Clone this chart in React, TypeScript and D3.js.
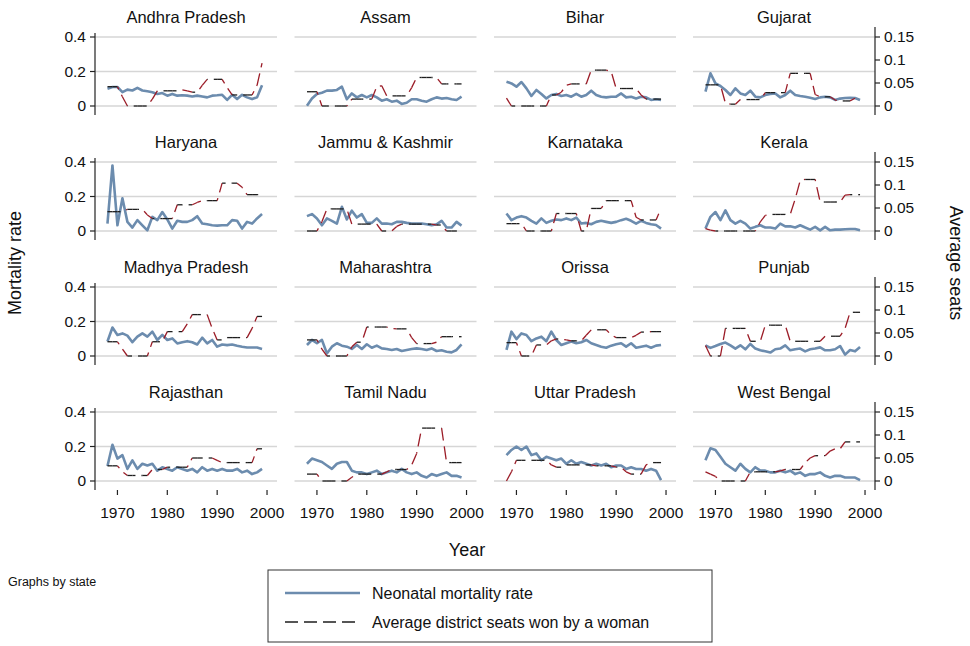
import * as d3 from "d3";

// years covered by both series
const years = [1968, 1969, 1970, 1971, 1972, 1973, 1974, 1975, 1976, 1977, 1978, 1979, 1980, 1981, 1982, 1983,
  1984, 1985, 1986, 1987, 1988, 1989, 1990, 1991, 1992, 1993, 1994, 1995, 1996, 1997, 1998, 1999];

const states = ["Andhra Pradesh", "Assam", "Bihar", "Gujarat", "Haryana", "Jammu & Kashmir", "Karnataka", "Kerala",
  "Madhya Pradesh", "Maharashtra", "Orissa", "Punjab", "Rajasthan", "Tamil Nadu", "Uttar Pradesh", "West Bengal"];

// neonatal mortality rate (left axis)
const nmrAndhra = [.10, .11, .11, .08, .095, .09, .105, .09, .085, .08, .07, .075, .06, .07, .06, .062, .06, .055, .06, .055, .05, .06, .062, .065, .035, .065, .04, .065, .05, .04, .05, .12];
const nmrAssam = [.002, .044, .07, .077, .089, .089, .093, .112, .039, .073, .05, .064, .05, .064, .05, .031, .039, .025, .031, .012, .019, .039, .039, .031, .025, .039, .05, .043, .046, .039, .035, .054];
const nmrBihar = [.141, .131, .112, .139, .102, .058, .093, .07, .044, .064, .07, .058, .064, .054, .07, .054, .064, .089, .064, .054, .05, .054, .054, .073, .05, .054, .044, .054, .05, .035, .039, .035];
const nmrGujarat = [.083, .19, .131, .116, .093, .064, .102, .073, .064, .089, .054, .05, .064, .07, .073, .05, .064, .089, .064, .058, .054, .048, .041, .05, .054, .05, .035, .043, .046, .048, .046, .035];
const nmrHaryana = [.043, .38, .033, .19, .053, .02, .063, .033, .004, .082, .063, .11, .067, .014, .059, .053, .053, .063, .086, .043, .039, .033, .031, .033, .033, .063, .059, .014, .053, .043, .073, .098];
const nmrJammu = [.086, .098, .073, .033, .073, .059, .043, .14, .067, .118, .078, .098, .047, .047, .073, .043, .043, .039, .053, .053, .047, .043, .043, .043, .039, .033, .039, .059, .02, .02, .053, .031];
const nmrKarnataka = [.102, .063, .078, .086, .078, .059, .043, .073, .047, .059, .067, .063, .073, .063, .078, .043, .047, .039, .053, .059, .053, .047, .053, .063, .071, .059, .043, .059, .047, .039, .035, .014];
const nmrKerala = [.014, .082, .11, .063, .12, .063, .043, .059, .043, .014, .024, .033, .02, .02, .014, .043, .027, .027, .02, .033, .02, .008, .024, .004, .024, .004, .008, .008, .01, .012, .012, .004];
const nmrMadhya = [.084, .165, .122, .131, .118, .08, .112, .131, .112, .141, .093, .122, .093, .102, .073, .08, .086, .08, .067, .106, .073, .093, .054, .067, .063, .067, .06, .054, .049, .049, .049, .041];
const nmrMaharashtra = [.064, .093, .074, .093, .015, .054, .074, .06, .054, .041, .064, .041, .068, .048, .06, .044, .041, .035, .041, .029, .035, .041, .044, .041, .035, .044, .029, .033, .025, .021, .035, .068];
const nmrOrissa = [.035, .141, .098, .131, .122, .086, .102, .112, .086, .141, .093, .064, .074, .084, .074, .08, .093, .074, .064, .054, .048, .06, .068, .074, .054, .074, .048, .054, .06, .048, .06, .064];
const nmrPunjab = [.062, .047, .058, .07, .078, .062, .043, .062, .039, .07, .043, .033, .027, .02, .039, .043, .062, .033, .039, .043, .027, .039, .043, .05, .033, .033, .039, .058, .008, .035, .027, .052];
const nmrRajasthan = [.087, .21, .13, .15, .07, .12, .07, .10, .09, .10, .06, .08, .07, .06, .08, .07, .06, .07, .05, .08, .06, .07, .06, .07, .06, .06, .07, .05, .06, .04, .05, .07];
const nmrTamil = [.10, .13, .12, .11, .09, .07, .10, .11, .11, .06, .05, .05, .04, .05, .06, .04, .05, .06, .05, .07, .05, .04, .05, .03, .02, .04, .03, .04, .05, .03, .03, .02];
const nmrUttar = [.15, .18, .20, .18, .20, .15, .16, .12, .14, .13, .12, .13, .10, .12, .10, .11, .10, .09, .10, .09, .10, .08, .09, .09, .07, .08, .07, .07, .06, .07, .06, .005];
const nmrBengal = [.12, .19, .18, .14, .10, .08, .06, .10, .07, .05, .08, .06, .06, .05, .05, .06, .05, .06, .04, .05, .03, .04, .04, .05, .03, .02, .03, .03, .02, .02, .02, .005];

// average district seats won by a woman (right axis)
const seatsAndhra = [.042, .042, .042, .02, 0, 0, 0, 0, 0, .015, .033, .033, .033, .033, .033, .035, .033, .03, .03, .045, .058, .058, .058, .058, .04, .024, .024, .024, .024, .024, .045, .093];
const seatsAssam = [.031, .031, .031, 0, 0, 0, 0, 0, 0, .015, .015, .015, .015, .015, .042, .044, .022, .022, .022, .022, .022, .04, .062, .062, .062, .062, .062, .048, .048, .048, .048, .048];
const seatsBihar = [.017, 0, 0, 0, 0, 0, 0, 0, 0, .024, .024, .03, .045, .048, .048, .048, .048, .078, .078, .078, .078, .075, .038, .038, .038, .038, .038, .024, .015, .015, .015, .015];
const seatsGujarat = [.046, .046, .046, .046, .006, .004, .004, .014, .014, .014, .014, .014, .029, .029, .029, .029, .029, .071, .071, .071, .071, .071, .025, .02, .02, .02, .013, .011, .011, .011, .017, .017];
const seatsHaryana = [.042, .042, .042, .042, .047, .047, .047, .047, .035, .027, .027, .027, .027, .027, .057, .057, .057, .057, .062, .066, .066, .066, .066, .104, .104, .104, .104, .095, .079, .079, .079, .079];
const seatsJammu = [0, 0, 0, .02, .048, .048, .048, .048, .048, .015, .015, .015, .015, .015, .015, 0, 0, 0, .01, .015, .015, .015, .015, .015, .015, .015, .013, .013, 0, 0, 0, 0];
const seatsKarnataka = [.016, .016, .016, .016, 0, 0, 0, 0, 0, 0, .038, .038, .038, .038, .038, 0, 0, .049, .049, .049, .066, .066, .066, .066, .066, .066, .03, .024, .024, .024, .024, .049];
const seatsKerala = [.005, .002, 0, 0, 0, 0, 0, 0, 0, 0, 0, .02, .034, .036, .036, .036, .036, .036, .07, .11, .112, .112, .112, .063, .063, .063, .063, .063, .078, .079, .079, .079];
const seatsMadhya = [.031, .031, .031, .015, 0, 0, 0, 0, 0, .031, .031, .031, .053, .053, .053, .053, .07, .09, .09, .09, .09, .06, .035, .035, .04, .04, .04, .04, .04, .06, .086, .086];
const seatsMaharashtra = [.035, .035, .035, .015, 0, 0, 0, 0, 0, .02, .03, .03, .063, .063, .063, .063, .063, .06, .059, .059, .059, .04, .027, .027, .027, .027, .03, .042, .042, .042, .042, .042];
const seatsOrissa = [.029, .029, .029, 0, 0, 0, .024, .024, .024, .033, .037, .037, .035, .033, .033, .033, .045, .057, .057, .057, .057, .046, .04, .04, .04, .04, .045, .052, .052, .053, .053, .053];
const seatsPunjab = [.023, 0, 0, 0, .06, .06, .06, .06, .06, .032, .032, .032, .067, .067, .067, .067, .067, .032, .032, .032, .032, .032, .032, .032, .043, .043, .043, .043, .06, .095, .095, .095];
const seatsRajasthan = [.033, .033, .033, .02, .012, .012, .012, .012, .012, .025, .025, .025, .03, .03, .03, .03, .03, .05, .05, .05, .05, .05, .045, .04, .04, .04, .04, .04, .04, .04, .07, .07];
const seatsTamil = [.015, .015, .015, 0, 0, 0, 0, 0, 0, .008, .015, .015, .015, .015, .015, .015, .02, .025, .025, .025, .025, .035, .06, .115, .115, .115, .115, .115, .04, .04, .04, .04];
const seatsUttar = [0, .02, .045, .045, .045, .045, .045, .045, .045, .035, .03, .03, .035, .035, .035, .035, .035, .035, .033, .033, .033, .033, .03, .03, .02, .015, .015, .015, .035, .04, .04, .04];
const seatsBengal = [.02, .015, .01, 0, 0, 0, 0, 0, 0, .02, .02, .02, .02, .02, .02, .022, .025, .025, .025, .025, .04, .05, .055, .055, .055, .065, .07, .07, .085, .085, .085, .085];

const nmrByState = [nmrAndhra, nmrAssam, nmrBihar, nmrGujarat, nmrHaryana, nmrJammu, nmrKarnataka, nmrKerala,
  nmrMadhya, nmrMaharashtra, nmrOrissa, nmrPunjab, nmrRajasthan, nmrTamil, nmrUttar, nmrBengal];
const seatsByState = [seatsAndhra, seatsAssam, seatsBihar, seatsGujarat, seatsHaryana, seatsJammu, seatsKarnataka, seatsKerala,
  seatsMadhya, seatsMaharashtra, seatsOrissa, seatsPunjab, seatsRajasthan, seatsTamil, seatsUttar, seatsBengal];

const leftTicks = [0, 0.2, 0.4];
const rightTicks = [0, 0.05, 0.1, 0.15];
const yearTicks = [1970, 1980, 1990, 2000];

const W = 970;
const H = 646;
const colX = [95, 294.5, 494, 693];
const panelW = 182;
const rowZero = [106, 231, 356, 481];
const span = 69;
const FONT = "'Liberation Sans', Arial, Helvetica, sans-serif";
const BLUE = "#6c8cae";
const RED = "#9b1c27";
const DASH = "13 6";

function DashedSeats({ vals, x, y }) {
  const pts = vals.map((v, i) => [x(years[i]), y(v)]);
  let cum = 0;
  const segs = [];
  for (let i = 0; i < pts.length - 1; i++) {
    const [x1, y1] = pts[i];
    const [x2, y2] = pts[i + 1];
    segs.push({ x1, y1, x2, y2, off: cum, flat: vals[i] === vals[i + 1] });
    cum += Math.hypot(x2 - x1, y2 - y1);
  }
  return (
    <g>
      {segs.map((s, i) => (
        <line key={i} x1={s.x1} y1={s.y1} x2={s.x2} y2={s.y2}
          stroke={s.flat ? "#1e1e1e" : RED} strokeWidth={1.3}
          strokeDasharray={DASH} strokeDashoffset={s.off} />
      ))}
    </g>
  );
}

function Panel({ idx }) {
  const col = idx % 4;
  const row = Math.floor(idx / 4);
  const x0 = colX[col];
  const zero = rowZero[row];
  const x = d3.scaleLinear().domain([1965.5, 2002]).range([x0, x0 + panelW]);
  const yL = d3.scaleLinear().domain([0, 0.4]).range([zero, zero - span]);
  const yR = d3.scaleLinear().domain([0, 0.15]).range([zero, zero - span]);
  const line = d3.line<number>().x((_, i) => x(years[i])).y(d => yL(d));
  const top = zero - 77;
  const bottom = zero + 9;

  return (
    <g>
      {leftTicks.map(t => (
        <line key={t} x1={x0} x2={x0 + panelW} y1={yL(t)} y2={yL(t)} stroke="#d6d6d6" strokeWidth={1.3} />
      ))}
      <text x={x0 + panelW / 2} y={zero - 83} textAnchor="middle" fontSize={16.5} fill="#111">{states[idx]}</text>
      {col === 0 && (
        <g>
          <line x1={x0} x2={x0} y1={top + 4} y2={bottom} stroke="#222" strokeWidth={1.2} />
          {leftTicks.map(t => (
            <g key={t}>
              <line x1={x0 - 5} x2={x0} y1={yL(t)} y2={yL(t)} stroke="#222" strokeWidth={1.2} />
              <text x={x0 - 9} y={yL(t)} dy="0.35em" textAnchor="end" fontSize={15.5} fill="#111">{d3.format("~g")(t)}</text>
            </g>
          ))}
        </g>
      )}
      {col === 3 && (
        <g>
          <line x1={x0 + panelW} x2={x0 + panelW} y1={top - 2} y2={bottom} stroke="#222" strokeWidth={1.2} />
          {rightTicks.map(t => (
            <g key={t}>
              <line x1={x0 + panelW} x2={x0 + panelW + 5} y1={yR(t)} y2={yR(t)} stroke="#222" strokeWidth={1.2} />
              <text x={x0 + panelW + 9} y={yR(t)} dy="0.35em" textAnchor="start" fontSize={15.5} fill="#111">{d3.format("~g")(t)}</text>
            </g>
          ))}
        </g>
      )}
      {row === 3 && (
        <g>
          {yearTicks.map(t => (
            <g key={t}>
              <line x1={x(t)} x2={x(t)} y1={bottom} y2={bottom + 5} stroke="#222" strokeWidth={1.2} />
              <text x={x(t)} y={bottom + 28} textAnchor="middle" fontSize={15.5} fill="#111">{t}</text>
            </g>
          ))}
        </g>
      )}
      <path d={line(nmrByState[idx]) ?? ""} fill="none" stroke={BLUE} strokeWidth={2.6} strokeLinejoin="round" />
      <DashedSeats vals={seatsByState[idx]} x={x} y={yR} />
    </g>
  );
}

export default function App() {
  return (
    <svg width={W} height={H} style={{ position: "absolute", left: 0, top: 0, background: "#fff" }}
      fontFamily={FONT}>
      <rect width={W} height={H} fill="#fff" />
      {states.map((_, i) => <Panel key={i} idx={i} />)}
      <text transform="translate(21,263) rotate(-90)" textAnchor="middle" fontSize={18} fill="#111">Mortality rate</text>
      <text transform="translate(950,263) rotate(90)" textAnchor="middle" fontSize={18} fill="#111">Average seats</text>
      <text x={467} y={556} textAnchor="middle" fontSize={18} fill="#111">Year</text>
      <text x={8} y={586} fontSize={12.5} fill="#111">Graphs by state</text>
      <rect x={268} y={570} width={444} height={72} fill="#fff" stroke="#333" strokeWidth={1} />
      <line x1={285} x2={360} y1={593} y2={593} stroke={BLUE} strokeWidth={2.6} />
      <text x={372} y={599} fontSize={16} fill="#111">Neonatal mortality rate</text>
      <line x1={285} x2={360} y1={622} y2={622} stroke="#1e1e1e" strokeWidth={1.3} strokeDasharray={DASH} />
      <text x={372} y={628} fontSize={16} fill="#111">Average district seats won by a woman</text>
    </svg>
  );
}
